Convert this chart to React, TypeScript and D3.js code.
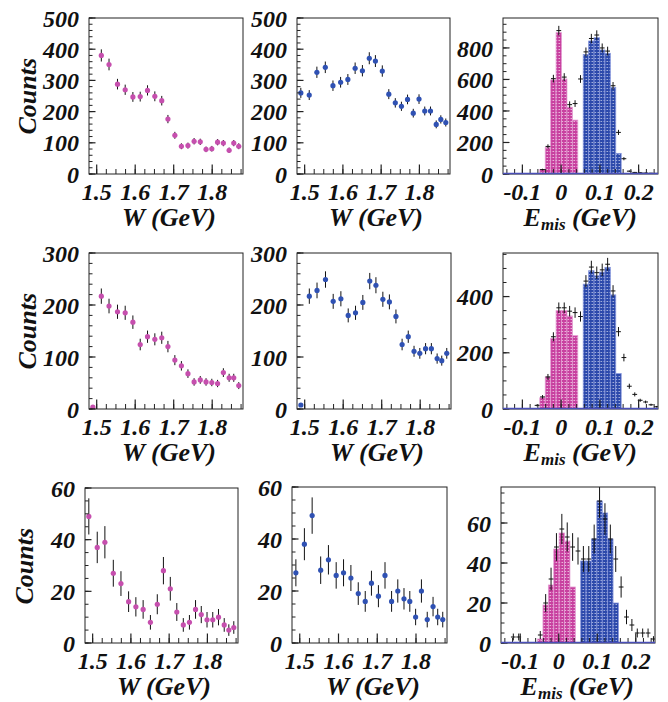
import React from 'react';
import * as d3 from 'd3';

// ---------- DATA ----------
// W bin centres (GeV)
const wBins = [1.490, 1.512, 1.532, 1.554, 1.574, 1.594, 1.613, 1.632, 1.651, 1.669, 1.685, 1.703, 1.720, 1.737, 1.753, 1.769, 1.784, 1.799, 1.814, 1.829, 1.844, 1.856, 1.869];
const wTickLabels = ['1.5', '1.6', '1.7', '1.8'];
const wTickValues = [1.5, 1.6, 1.7, 1.8];

// Row 1 (pink = Lambda, blue = Sigma)
const row1Lambda = [null, 380, 351, 288, 270, 247, 248, 268, 249, 235, 176, 124, 89, 91, 105, 103, 79, 81, 102, 99, 76, 99, 89];
const row1Sigma = [260, 253, 326, 342, 283, 294, 303, 339, 331, 371, 362, 330, 256, 228, 217, 239, 195, 240, 202, 202, 159, 175, 165];
// Row 2
const row2Lambda = [3.5, 217, 198, 187, 185, 167, 124, 139, 134, 137, 120, 94, 83, 68, 52, 56, 52, 51, 49, 70, 60, 60, 45];
const row2Sigma = [7.7, 217, 228, 249, 207, 212, 180, 185, 205, 246, 238, 211, 206, 178, 124, 139, 111, 107, 116, 116, 97, 93, 107];
// Row 3
const row3Lambda = [49, 37, 39, 27, 23, 16, 14, 13, 8, 15, 28, 21, 12, 7, 8, 13, 11, 9, 9, 10, 7, 5, 6];
const row3Sigma = [27, 38, 49, 28, 32, 26, 27, 25, 19, 16, 23, 18, 26, 16, 20, 17, 16, 10, 20, 9, 14, 10, 9];

// E_mis bin centres (GeV)
const emisBins = [-0.146, -0.132, -0.118, -0.104, -0.090, -0.076, -0.062, -0.048, -0.034, -0.020, -0.006, 0.008, 0.022, 0.036, 0.050, 0.064, 0.078, 0.092, 0.106, 0.120, 0.134, 0.148, 0.162, 0.176, 0.190, 0.204, 0.218, 0.232, 0.246];
const emisTickLabels = ['-0.1', '0', '0.1', '0.2'];
const emisTickValues = [-0.1, 0, 0.1, 0.2];

const emis1Lambda = [0, 0, 0, 0, 0, 0, 0, 28, 169, 597, 897, 603, 424, 342, 0, 0, 0, 0, 0, 0, 0, 0, 0, 0, 0, 0, 0, 0, 0];
const emis1Sigma = [0, 0, 0, 0, 0, 0, 0, 0, 0, 0, 0, 0, 0, 0, 0, 759, 844, 865, 787, 766, 549, 131, 0, 0, 0, 0, 0, 0, 0];
const emis1Data = [0, 0, 0, 0, 0, 0, 0, 28, 175, 605, 910, 615, 440, 447, 603, 775, 860, 882, 800, 780, 560, 264, 97, 18, 10, 8, 6, 5, 4];

const emis2Lambda = [0, 0, 0, 0, 0, 0, 0, 40, 114, 251, 350, 350, 331, 261, 0, 0, 0, 0, 0, 0, 0, 0, 0, 0, 0, 0, 0, 0, 0];
const emis2Sigma = [0, 0, 0, 0, 0, 0, 0, 0, 0, 0, 0, 0, 0, 0, 0, 444, 492, 474, 487, 504, 406, 126, 0, 0, 0, 0, 0, 0, 0];
const emis2Data = [0, 0, 0, 0, 0, 0, 13, 43, 114, 257, 360, 360, 348, 343, 329, 455, 505, 485, 495, 515, 420, 275, 183, 81, 52, 31, 25, 15, 8];

const emis3Lambda = [0, 0, 0, 0, 0, 0, 0, 2, 19, 29, 47, 55, 51, 28, 0, 0, 0, 0, 0, 0, 0, 0, 0, 0, 0, 0, 0, 0, 0];
const emis3Sigma = [0, 0, 0, 0, 0, 0, 0, 0, 0, 0, 0, 0, 0, 0, 0, 41, 41, 52, 71, 65, 52, 20, 0, 0, 0, 0, 0, 0, 0];
const emis3Data = [0, 0, 3, 3, 0, 0, 0, 4, 20, 32, 48, 57, 53, 48, 46, 42, 42, 52, 71, 62, 52, 42, 28, 13, 9, 5, 5, 5, 2];

// ---------- STYLE ----------
const FONT = "'Liberation Serif','Times New Roman',serif";
const PINK = '#c64fae';
const BLUE = '#2f51b3';
const PINK_HIST = '#c8409f';
const BLUE_HIST = '#2c49ab';
const BIN_HALF = 0.007;
const CROSS_HALF = 0.0062;

type Frame = { x0: number; x1: number; y0: number; y1: number };

function Axes({ frame, x, y, yMax, yMajor, yMinor, yLabelMax, xMajor, xLabels, xMinorStep, xDomain, titleKind, counts, countsX }: any) {
  const majorY = d3.range(0, yMax + 1e-9, yMajor);
  const minorY = d3.range(0, yMax + 1e-9, yMinor);
  const lo = Math.ceil((xDomain[0] - 1e-9) / xMinorStep);
  const hi = Math.floor((xDomain[1] + 1e-9) / xMinorStep);
  const minorX = d3.range(lo, hi + 1).map((k: number) => k * xMinorStep);
  const tickFont = { fontFamily: FONT, fontStyle: 'italic', fontWeight: 'bold', fontSize: 24, fill: '#111' } as any;
  return (
    <g>
      <rect x={frame.x0} y={frame.y0} width={frame.x1 - frame.x0} height={frame.y1 - frame.y0} fill="none" stroke="#222" strokeWidth={1} />
      {minorY.map((v: number, i: number) => (
        <line key={'my' + i} x1={frame.x0} x2={frame.x0 + 3.5} y1={y(v)} y2={y(v)} stroke="#222" strokeWidth={1} />
      ))}
      {majorY.map((v: number, i: number) => (
        <line key={'My' + i} x1={frame.x0} x2={frame.x0 + 6.5} y1={y(v)} y2={y(v)} stroke="#222" strokeWidth={1.2} />
      ))}
      {majorY.filter((v: number) => v <= yLabelMax).map((v: number, i: number) => (
        <text key={'ly' + i} x={frame.x0 - 10} y={y(v)} dy="0.36em" textAnchor="end" style={tickFont}>{v}</text>
      ))}
      {minorX.map((v: number, i: number) => (
        <line key={'mx' + i} x1={x(v)} x2={x(v)} y1={frame.y1} y2={frame.y1 - 5} stroke="#222" strokeWidth={1} />
      ))}
      {xMajor.map((v: number, i: number) => (
        <line key={'Mx' + i} x1={x(v)} x2={x(v)} y1={frame.y1} y2={frame.y1 - 9.5} stroke="#222" strokeWidth={1.2} />
      ))}
      {xMajor.map((v: number, i: number) => (
        <text key={'lx' + i} x={x(v)} y={frame.y1 + 26} textAnchor="middle" style={tickFont}>{xLabels[i]}</text>
      ))}
      {titleKind === 'W' ? (
        <text x={frame.x1 - 27} y={frame.y1 + 52} textAnchor="end" style={{ ...tickFont, fontSize: 26 }}>W (GeV)</text>
      ) : (
        <text x={frame.x1 - 21} y={frame.y1 + 51.5} textAnchor="end" style={{ ...tickFont, fontSize: 26 }}>
          E<tspan dy={4} fontSize={17}>mis</tspan><tspan dy={-4}> (GeV)</tspan>
        </text>
      )}
      {counts && (
        <text transform={`translate(${countsX},${frame.y0 + 40}) rotate(-90)`} textAnchor="end" style={{ ...tickFont, fontSize: 26 }}>Counts</text>
      )}
    </g>
  );
}

function WPanel({ frame, id, values, color, yMax, yMajor, yMinor, counts, countsX }: any) {
  const x = d3.scaleLinear().domain([1.48, 1.88]).range([frame.x0, frame.x1]);
  const y = d3.scaleLinear().domain([0, yMax]).range([frame.y1, frame.y0]);
  const pts = wBins.map((w, i) => ({ w, v: values[i] })).filter((d) => d.v !== null && d.v !== undefined);
  return (
    <g>
      <clipPath id={id}><rect x={frame.x0} y={frame.y0} width={frame.x1 - frame.x0} height={frame.y1 - frame.y0} /></clipPath>
      <g clipPath={`url(#${id})`}>
        {pts.map((d, i) => (
          <line key={'e' + i} x1={x(d.w)} x2={x(d.w)} y1={y(d.v + Math.sqrt(d.v))} y2={y(Math.max(0, d.v - Math.sqrt(d.v)))} stroke="#111" strokeWidth={1} />
        ))}
        {pts.map((d, i) => (
          <circle key={'c' + i} cx={x(d.w)} cy={y(d.v)} r={2.6} fill={color} />
        ))}
      </g>
      <Axes frame={frame} x={x} y={y} yMax={yMax} yMajor={yMajor} yMinor={yMinor} yLabelMax={yMax}
        xMajor={wTickValues} xLabels={wTickLabels} xMinorStep={0.025} xDomain={[1.48, 1.88]} titleKind="W" counts={counts} countsX={countsX} />
    </g>
  );
}

function EPanel({ frame, id, lambda, sigma, data, yMax, yMajor, yMinor, yLabelMax }: any) {
  const x = d3.scaleLinear().domain([-0.15, 0.25]).range([frame.x0, frame.x1]);
  const y = d3.scaleLinear().domain([0, yMax]).range([frame.y1, frame.y0]);
  const bars = (arr: number[], fill: string, stroke: string, key: string) =>
    emisBins.map((c, i) => arr[i] > 0 ? (
      <rect key={key + i} x={x(c - BIN_HALF)} y={y(arr[i])} width={x(c + BIN_HALF) - x(c - BIN_HALF)} height={y(0) - y(arr[i])} fill={fill} stroke={stroke} strokeWidth={0.8} />
    ) : null);
  return (
    <g>
      <clipPath id={id}><rect x={frame.x0} y={frame.y0} width={frame.x1 - frame.x0} height={frame.y1 - frame.y0} /></clipPath>
      <g clipPath={`url(#${id})`}>
        {bars(lambda, 'url(#pinkPat)', '#e39bd2', 'l')}
        {bars(sigma, 'url(#bluePat)', '#8595dc', 's')}
        {emisBins.map((c, i) => data[i] > 0 ? (
          <g key={'d' + i}>
            <line x1={x(c)} x2={x(c)} y1={y(data[i] + Math.sqrt(data[i]))} y2={y(Math.max(0, data[i] - Math.sqrt(data[i])))} stroke="#111" strokeWidth={1} />
            <line x1={x(c - CROSS_HALF)} x2={x(c + CROSS_HALF)} y1={y(data[i])} y2={y(data[i])} stroke="#111" strokeWidth={1} />
          </g>
        ) : null)}
      </g>
      <Axes frame={frame} x={x} y={y} yMax={yMax} yMajor={yMajor} yMinor={yMinor} yLabelMax={yLabelMax}
        xMajor={emisTickValues} xLabels={emisTickLabels} xMinorStep={0.02} xDomain={[-0.15, 0.25]} titleKind="E" counts={false} />
      <line x1={frame.x0} x2={frame.x1} y1={frame.y1 - 0.5} y2={frame.y1 - 0.5} stroke="#4a4fb8" strokeWidth={1.6} />
    </g>
  );
}

export default function App() {
  const f = (x0: number, x1: number, y0: number, y1: number): Frame => ({ x0, x1, y0, y1 });
  return (
    <svg width={668} height={702} style={{ position: 'absolute', left: 0, top: 0, background: '#fff' }}>
      <defs>
        <pattern id="pinkPat" width={3} height={3} patternUnits="userSpaceOnUse">
          <rect width={3} height={3} fill={PINK_HIST} />
          <rect x={0.5} y={1} width={1.6} height={1} fill="#fff" opacity={0.6} />
        </pattern>
        <pattern id="bluePat" width={3} height={3} patternUnits="userSpaceOnUse">
          <rect width={3} height={3} fill={BLUE_HIST} />
          <rect x={0.5} y={1} width={1.6} height={1} fill="#fff" opacity={0.55} />
        </pattern>
      </defs>
      <rect width={668} height={702} fill="#fff" />
      {/* Row 1 */}
      <WPanel id="c11" frame={f(89, 243, 18, 174)} values={row1Lambda} color={PINK} yMax={500} yMajor={100} yMinor={20} counts countsX={36} />
      <WPanel id="c12" frame={f(297, 450, 18, 174)} values={row1Sigma} color={BLUE} yMax={500} yMajor={100} yMinor={20} />
      <EPanel id="c13" frame={f(503, 658, 18, 174)} lambda={emis1Lambda} sigma={emis1Sigma} data={emis1Data} yMax={990} yMajor={200} yMinor={50} yLabelMax={800} />
      {/* Row 2 */}
      <WPanel id="c21" frame={f(89, 243, 253, 409)} values={row2Lambda} color={PINK} yMax={300} yMajor={100} yMinor={20} counts countsX={36} />
      <WPanel id="c22" frame={f(297, 451, 253, 409)} values={row2Sigma} color={BLUE} yMax={300} yMajor={100} yMinor={20} />
      <EPanel id="c23" frame={f(503, 658, 253, 409)} lambda={emis2Lambda} sigma={emis2Sigma} data={emis2Data} yMax={555} yMajor={200} yMinor={50} yLabelMax={400} />
      {/* Row 3 */}
      <WPanel id="c31" frame={f(85, 238, 488, 643)} values={row3Lambda} color={PINK} yMax={60} yMajor={20} yMinor={5} counts countsX={33} />
      <WPanel id="c32" frame={f(292, 447, 487, 643)} values={row3Sigma} color={BLUE} yMax={60} yMajor={20} yMinor={5} />
      <EPanel id="c33" frame={f(501, 655, 487, 643)} lambda={emis3Lambda} sigma={emis3Sigma} data={emis3Data} yMax={78} yMajor={20} yMinor={5} yLabelMax={60} />
    </svg>
  );
}
